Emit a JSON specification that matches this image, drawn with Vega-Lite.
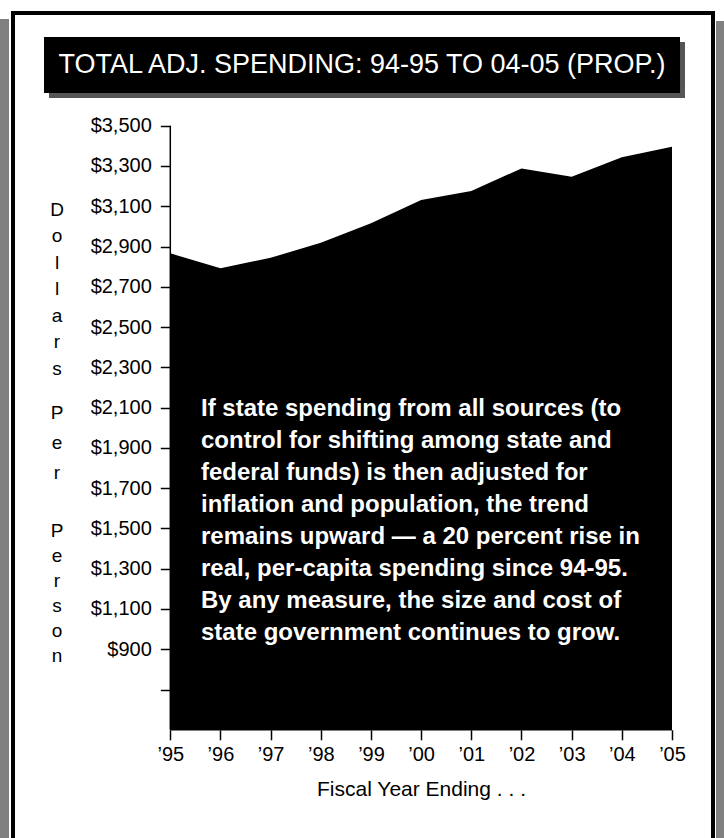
{
  "$schema": "https://vega.github.io/schema/vega-lite/v6.json",
  "width": 700,
  "height": 830,
  "autosize": {"type": "none"},
  "padding": {"left": 13, "top": 13, "right": 11, "bottom": 0},
  "background": "white",
  "config": {
    "view": {"stroke": "black", "strokeWidth": 4, "fill": "white"},
    "font": "Liberation Sans",
    "axis": {"grid": false, "domain": false, "tickColor": "black", "tickWidth": 1.5, "tickSize": 10, "labelColor": "black", "labelFont": "Liberation Sans", "titleFont": "Liberation Sans", "titleColor": "black", "titleFontWeight": "normal", "labelOverlap": false, "labelFlush": false}
  },
  "datasets": {
    "spending": [
      {"year": 1995, "spending": 2866},
      {"year": 1996, "spending": 2792},
      {"year": 1997, "spending": 2844},
      {"year": 1998, "spending": 2919},
      {"year": 1999, "spending": 3015},
      {"year": 2000, "spending": 3131},
      {"year": 2001, "spending": 3176},
      {"year": 2002, "spending": 3288},
      {"year": 2003, "spending": 3247},
      {"year": 2004, "spending": 3343},
      {"year": 2005, "spending": 3396}
    ],
    "one": [{}]
  },
  "layer": [
    {
      "data": {"name": "spending"},
      "mark": {"type": "area", "color": "black", "opacity": 1},
      "encoding": {
        "x": {
          "field": "year", "type": "quantitative",
          "scale": {"domain": [1991.8647, 2005.8173], "nice": false, "zero": false},
          "axis": {
            "orient": "bottom", "offset": -113.2,
            "values": [1995, 1996, 1997, 1998, 1999, 2000, 2001, 2002, 2003, 2004, 2005],
            "labelExpr": "'\u2019' + substring(toString(datum.value), 2, 4)",
            "labelFontSize": 20, "labelPadding": 5,
            "title": "Fiscal Year Ending . . .",
            "titleFontSize": 21, "titleX": 408, "titleY": 66, "titleBaseline": "alphabetic", "titleAlign": "center"
          }
        },
        "y": {
          "field": "spending", "type": "quantitative",
          "scale": {"domain": [-62.2, 4059.7], "nice": false, "zero": false},
          "axis": {
            "orient": "left", "offset": -157.3,
            "values": [700, 900, 1100, 1300, 1500, 1700, 1900, 2100, 2300, 2500, 2700, 2900, 3100, 3300, 3500],
            "format": "$,.0f",
            "labelExpr": "datum.value < 800 ? '' : datum.label",
            "labelFontSize": 20, "labelPadding": 9,
            "title": null
          }
        },
        "y2": {"datum": 500}
      }
    },
    {
      "data": {"name": "one"},
      "mark": {"type": "rect", "color": "#808080"},
      "encoding": {
        "x": {"datum": 1991.6},
        "x2": {"datum": 1991.785},
        "y": {"datum": 4029.9},
        "y2": {"datum": -62.2}
      }
    },
    {
      "data": {"name": "one"},
      "mark": {"type": "rect", "color": "#808080"},
      "encoding": {
        "x": {"datum": 2005.877},
        "x2": {"datum": 2006.2},
        "y": {"datum": 4020},
        "y2": {"datum": -62.2}
      }
    },
    {
      "data": {"name": "one"},
      "mark": {"type": "rect", "color": "#555555"},
      "encoding": {
        "x": {"datum": 1992.582},
        "x2": {"datum": 2005.259},
        "y": {"datum": 3915.7},
        "y2": {"datum": 3637.6}
      }
    },
    {
      "data": {"name": "one"},
      "mark": {"type": "rect", "color": "black"},
      "encoding": {
        "x": {"datum": 1992.483},
        "x2": {"datum": 2005.16},
        "y": {"datum": 3940.5},
        "y2": {"datum": 3662.4}
      }
    },
    {
      "data": {"name": "one"},
      "mark": {"type": "text", "color": "white", "font": "Liberation Sans", "fontSize": 27, "align": "center", "baseline": "middle"},
      "encoding": {
        "x": {"datum": 1998.821},
        "y": {"datum": 3801.5},
        "text": {"value": "TOTAL ADJ. SPENDING: 94-95 TO 04-05 (PROP.)"}
      }
    },
    {
      "data": {"name": "one"},
      "mark": {"type": "text", "color": "black", "font": "Liberation Sans", "fontSize": 19, "align": "center", "baseline": "alphabetic", "lineHeight": 26.5},
      "encoding": {
        "x": {"datum": 1992.7417},
        "y": {"datum": 3052.6},
        "text": {"value": ["D", "o", "l", "l", "a", "r", "s"]}
      }
    },
    {
      "data": {"name": "one"},
      "mark": {"type": "text", "color": "black", "font": "Liberation Sans", "fontSize": 19, "align": "center", "baseline": "alphabetic", "lineHeight": 30},
      "encoding": {
        "x": {"datum": 1992.7417},
        "y": {"datum": 2044.5},
        "text": {"value": ["P", "e", "r"]}
      }
    },
    {
      "data": {"name": "one"},
      "mark": {"type": "text", "color": "black", "font": "Liberation Sans", "fontSize": 19, "align": "center", "baseline": "alphabetic", "lineHeight": 25},
      "encoding": {
        "x": {"datum": 1992.7417},
        "y": {"datum": 1458.5},
        "text": {"value": ["P", "e", "r", "s", "o", "n"]}
      }
    },
    {
      "data": {"name": "one"},
      "mark": {"type": "rule", "color": "black", "strokeWidth": 1.5},
      "encoding": {
        "x": {"datum": 1995},
        "y": {"datum": 500},
        "y2": {"datum": 3500}
      }
    },
    {
      "data": {"name": "one"},
      "mark": {"type": "rule", "color": "black", "strokeWidth": 1.5},
      "encoding": {
        "x": {"datum": 1995},
        "x2": {"datum": 2005},
        "y": {"datum": 500}
      }
    },
    {
      "data": {"name": "one"},
      "mark": {"type": "text", "color": "white", "font": "Liberation Sans", "fontSize": 24, "fontWeight": "bold", "align": "left", "baseline": "alphabetic", "lineHeight": 32},
      "encoding": {
        "x": {"datum": 1995.612},
        "y": {"datum": 2058.4},
        "text": {"value": [
          "If state spending from all sources (to",
          "control for shifting among state and",
          "federal funds) is then adjusted for",
          "inflation and population, the trend",
          "remains upward \u2014 a 20 percent rise in",
          "real, per-capita spending since 94-95.",
          "By any measure, the size and cost of",
          "state government continues to grow."
        ]}
      }
    }
  ]
}
